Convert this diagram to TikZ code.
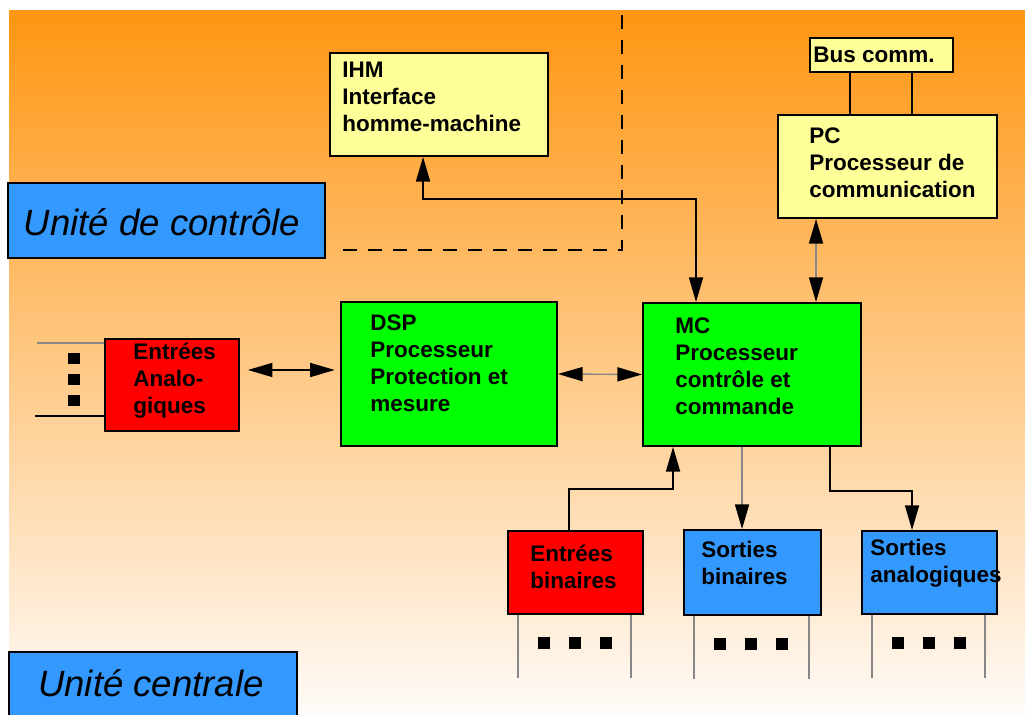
\documentclass[tikz,border=0pt]{standalone}
\usepackage{fontspec}
\setmainfont{Liberation Sans}
\usetikzlibrary{arrows.meta,fit}
\definecolor{bgorange}{RGB}{255,150,18}
\definecolor{bgpeach}{RGB}{255,203,165}
\definecolor{bgwhite}{RGB}{255,251,248}
\definecolor{unitblue}{RGB}{51,153,255}
\definecolor{boxyellow}{RGB}{255,255,153}
\definecolor{boxgreen}{RGB}{0,255,0}
\definecolor{boxred}{RGB}{255,0,0}
\definecolor{linkgray}{RGB}{135,135,135}

\begin{document}
\begin{tikzpicture}[x=0.02cm,y=-0.02cm,
box/.style={draw=black,line width=1.1pt,inner sep=0pt},
txt/.style={font=\fontsize{12.8}{15.4}\selectfont\bfseries,align=left,inner sep=0pt,anchor=north west},
unit/.style={draw=black,line width=1pt,fill=unitblue,inner sep=0pt},
unittxt/.style={font=\fontsize{20.8}{24}\selectfont\itshape,inner sep=0pt},
link/.style={line width=.8pt,draw=black},
graylink/.style={line width=.8pt,draw=linkgray},
wire/.style={line width=.8pt,draw=linkgray},
bound/.style={line width=1.6pt,dash pattern=on .28cm off .22cm},
endarr/.style={-{Triangle[length=14pt,width=8pt,color=black]}},
biarr/.style={{Triangle[length=14pt,width=8pt,color=black]}-{Triangle[length=14pt,width=8pt,color=black]}}]

\useasboundingbox(0,0)rectangle(1025,715);
\fill[white](0,0)rectangle(1025,715);
\shade[top color=bgorange,middle color=bgpeach,bottom color=bgwhite](9,11)rectangle(1025,715);

% limite unite de controle
\draw[bound](622,15)--(622,250)--(337,250);

\node[unit,fit={(8,183)(325,258)}](ctrl){};
\node[unittxt](ctrl-txt)at(162,222){Unité de contrôle};
\node[unit,fit={(9,652)(297,735)}](cent){};
\node[unittxt](cent-txt)at(151,683){Unité centrale};

% boites
\node[box,fill=boxyellow,fit={(330,53)(548,156)}](ihm){};
\node[txt](ihm-txt)at(342,62){IHM\\Interface\\homme-machine};
\node[box,fill=boxyellow,fit={(810,38)(953,72)}](bus){};
\node[txt](bus-txt)at(813,47){Bus comm.};
\node[box,fill=boxyellow,fit={(778,115)(997,218)}](pc){};
\node[txt](pc-txt)at(809,127){PC\\Processeur de\\communication};
\node[box,fill=boxgreen,fit={(341,302)(557,446)}](dsp){};
\node[txt](dsp-txt)at(370,314){DSP\\Processeur\\Protection et\\mesure};
\node[box,fill=boxgreen,fit={(643,303)(861,446)}](mc){};
\node[txt](mc-txt)at(675,317){MC\\Processeur\\contrôle et\\commande};
\node[box,fill=boxred,fit={(105,339)(239,431)}](ea){};
\node[txt](ea-txt)at(133,343){Entrées\\Analo-\\giques};
\node[box,fill=boxred,fit={(508,531)(643,614)}](eb){};
\node[txt](eb-txt)at(530,545){Entrées\\binaires};
\node[box,fill=unitblue,fit={(684,530)(821,615)}](sb){};
\node[txt](sb-txt)at(701,541){Sorties\\binaires};
\node[box,fill=unitblue,fit={(862,531)(997,614)}](sa){};
\node[txt](sa-txt)at(870,539){Sorties\\analogiques};

% liaisons
\draw[link]([shift={(41,0)}]bus.south west)--([shift={(73,0)}]pc.north west);
\draw[link]([shift={(103,0)}]bus.south west)--([shift={(135,0)}]pc.north west);
\draw[graylink,biarr]([shift={(39,0)}]pc.south west)--([shift={(174,0)}]mc.north west);
\draw[link,biarr]([shift={(94,0)}]ihm.south west)--++(0,42)-|([shift={(54,0)}]mc.north west);
\draw[link,biarr,shorten <=4.5pt,shorten >=3pt]([shift={(0,-15)}]ea.east)--([shift={(0,-4)}]dsp.west);
\draw[graylink,biarr](dsp.east)--(mc.west);
\draw[link,endarr]([shift={(62,0)}]eb.north west)--++(0,-41)-|([shift={(31,0)}]mc.south west);
\draw[graylink,endarr]([shift={(100,0)}]mc.south west)--([shift={(59,0)}]sb.north west);
\draw[link,endarr]([shift={(188,0)}]mc.south west)--++(0,44)-|([shift={(51,0)}]sa.north west);

% entrees/sorties
\coordinate(ea-w1)at(37,343);
\coordinate(ea-w2)at(35,416);
\draw[wire](ea-w1)--(ea-w1-|ea.west);
\draw[link](ea-w2)--(ea-w2-|ea.west);
\foreach \y in {353,374,395}
  \fill(68,\y)rectangle++(12,11);
\foreach \b in {eb,sb,sa}{
  \draw[wire]([shift={(11,0)}]\b.south west)--++(0,63);
  \draw[wire]([shift={(-13,0)}]\b.south east)--++(0,63);
  \foreach \dx in {31,62,93}
    \fill([shift={(\dx,22)}]\b.south west)rectangle++(12,12);
}
\end{tikzpicture}
\end{document}
